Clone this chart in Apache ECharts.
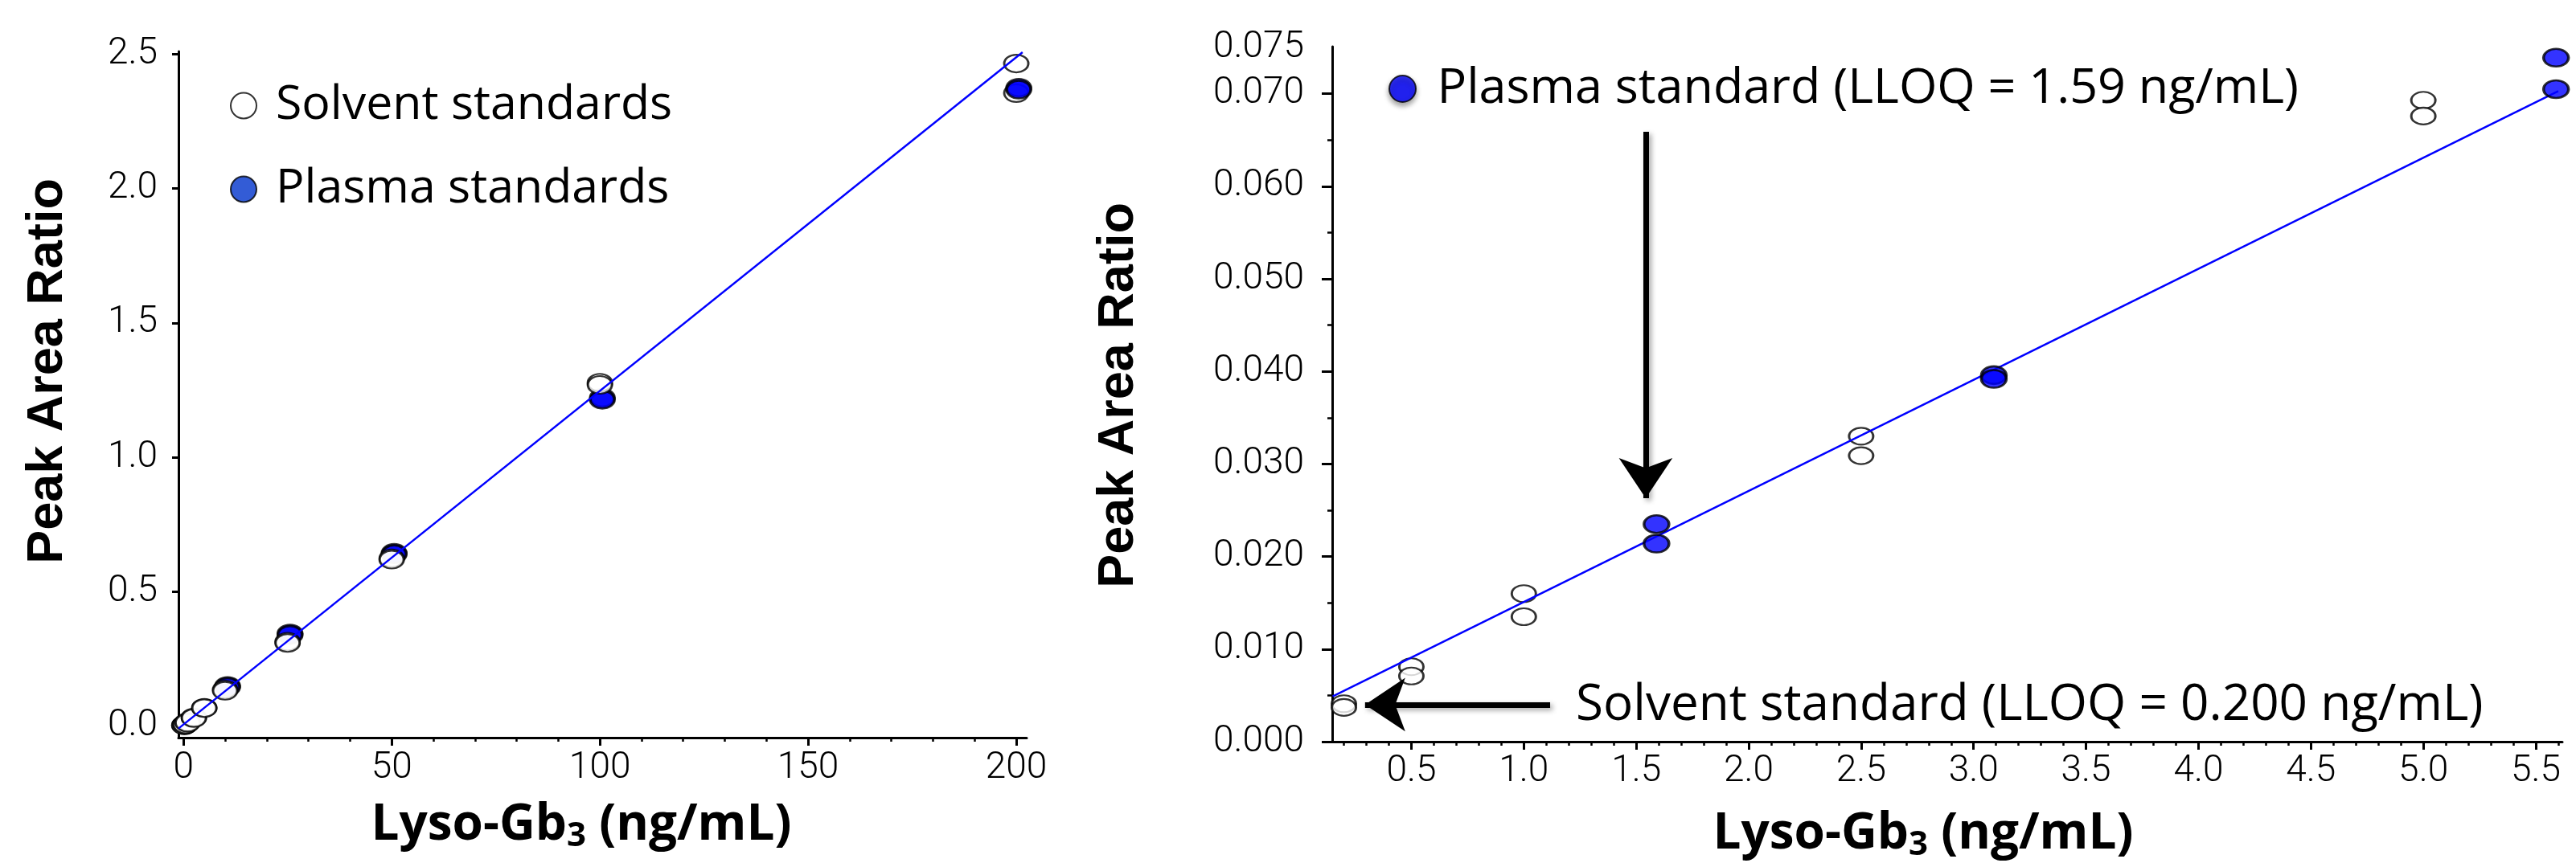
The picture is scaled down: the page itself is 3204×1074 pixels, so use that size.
<!DOCTYPE html>
<html>
<head>
<meta charset="utf-8">
<title>Lyso-Gb3 calibration curves</title>
<script src="https://cdn.jsdelivr.net/npm/echarts@6/dist/echarts.min.js"></script>
<style>
  html, body { margin: 0; padding: 0; background: #fff; }
  #chart { width: 3204px; height: 1074px; }
</style>
</head>
<body>
<div id="chart"></div>
<script>
// solvent standards, duplicates (ng/mL, peak area ratio)
var solventConc  = [0.2, 0.2, 0.5, 0.5, 1, 1, 2.5, 2.5, 5, 5, 10, 10, 25, 25, 50, 50, 100, 100, 200, 200];
var solventRatio = [0.0041, 0.0037, 0.0081, 0.0071, 0.0160, 0.0135, 0.0330, 0.0309, 0.0693, 0.0676,
                    0.137, 0.132, 0.315, 0.310, 0.625, 0.620, 1.278, 1.270, 2.465, 2.355];
// plasma standards (endogenous + spike)
var plasmaConc  = [1.59, 1.59, 3.09, 3.09, 5.59, 5.59, 10.59, 10.59, 25.59, 25.59, 50.59, 50.59, 100.59, 100.59, 200.59, 200.59];
var plasmaRatio = [0.0235, 0.0214, 0.0396, 0.0392, 0.0739, 0.0705, 0.150, 0.146, 0.345, 0.340,
                   0.645, 0.640, 1.222, 1.215, 2.375, 2.368];
// regression lines, end points
var fitFullX = [-1.2, 201.5];
var fitFullY = [-0.008, 2.507];
var fitLowX = [0.15, 5.6];
var fitLowY = [0.0049, 0.0703];

// tick values
var fullXTicks = [0, 50, 100, 150, 200];
var fullXMinor = [10, 20, 30, 40, 60, 70, 80, 90, 110, 120, 130, 140, 160, 170, 180, 190];
var fullYTicks = [0, 0.5, 1.0, 1.5, 2.0, 2.5];
var lowXTicks = [0.5, 1.0, 1.5, 2.0, 2.5, 3.0, 3.5, 4.0, 4.5, 5.0, 5.5];
var lowXMinor = [0.2, 0.3, 0.4, 0.6, 0.7, 0.8, 0.9, 1.1, 1.2, 1.3, 1.4, 1.6, 1.7, 1.8, 1.9,
                 2.1, 2.2, 2.3, 2.4, 2.6, 2.7, 2.8, 2.9, 3.1, 3.2, 3.3, 3.4, 3.6, 3.7, 3.8, 3.9,
                 4.1, 4.2, 4.3, 4.4, 4.6, 4.7, 4.8, 4.9, 5.1, 5.2, 5.3, 5.4, 5.6];
var lowYTicks = [0, 0.01, 0.02, 0.03, 0.04, 0.05, 0.06, 0.07];
var lowYLabels = [0, 0.01, 0.02, 0.03, 0.04, 0.05, 0.06, 0.07, 0.075];
var lowYMinor = [0.005, 0.015, 0.025, 0.035, 0.045, 0.055, 0.065];

// annotation arrows (data coords: tail, tip)
var plasmaArrow = [[1.542, 0.0659], [1.542, 0.0263]];
var solventArrow = [[1.117, 0.0040], [0.294, 0.0040]];

function pairs(xs, ys) {
  return xs.map(function(x, i) { return [x, ys[i]]; });
}
var lowMax = 5.618;
var solventAll = pairs(solventConc, solventRatio);
var plasmaAll = pairs(plasmaConc, plasmaRatio);
// the full-range panel shows plasma standards from 10 ng/mL up only
var plasmaHigh = plasmaAll.filter(function(p) { return p[0] >= 10; });
// in the full-range panel the 200 ng/mL solvent points sit under the plasma ones, the rest on top
var solventTop = solventAll.filter(function(p) { return p[0] < 150; });
var solventUnder = solventAll.filter(function(p) { return p[0] >= 150; });
var solventLow = solventAll.filter(function(p) { return p[0] <= lowMax; });
var plasmaLow = plasmaAll.filter(function(p) { return p[0] <= lowMax; });

var blue = '#0000ff';
var tickFont = { fontFamily: 'Roboto', fontWeight: 300, fontSize: 46, color: '#000' };
var axisLine = { onZero: false, lineStyle: { color: '#000', width: 3 } };

function mainAxis(extra) {
  var base = {
    type: 'value',
    axisLine: axisLine,
    splitLine: { show: false }
  };
  for (var k in extra) base[k] = extra[k];
  return base;
}
function minorAxis(extra) {
  var base = {
    type: 'value',
    axisLine: { show: false, onZero: false },
    axisLabel: { show: false },
    splitLine: { show: false }
  };
  for (var k in extra) base[k] = extra[k];
  return base;
}

var solventStyle = { color: '#ffffff', borderColor: '#000', borderWidth: 2.5 };
var plasmaStyle = { color: blue, borderColor: '#000', borderWidth: 3 };

var chart = echarts.init(document.getElementById('chart'));
chart.setOption({
  animation: false,
  backgroundColor: '#fff',
  grid: [
    { left: 222, top: 64, width: 1055, height: 854 },
    { left: 1657, top: 58, width: 1530, height: 865 }
  ],
  xAxis: [
    mainAxis({
      gridIndex: 0, min: -1.2, max: 202.5,
      axisTick: { customValues: fullXTicks, length: 10, lineStyle: { width: 3 } },
      axisLabel: Object.assign({ customValues: fullXTicks, margin: 15 }, tickFont)
    }),
    mainAxis({
      gridIndex: 1, min: 0.148, max: lowMax,
      axisTick: { customValues: lowXTicks, length: 10, lineStyle: { width: 3 } },
      axisLabel: Object.assign({ customValues: lowXTicks, margin: 14,
        formatter: function(v) { return v.toFixed(1); } }, tickFont)
    }),
    minorAxis({
      gridIndex: 0, position: 'bottom', min: -1.2, max: 202.5,
      axisTick: { customValues: fullXMinor, length: 5, lineStyle: { width: 2.5, color: '#000' } }
    }),
    minorAxis({
      gridIndex: 1, position: 'bottom', min: 0.148, max: lowMax,
      axisTick: { customValues: lowXMinor, length: 5, lineStyle: { width: 2.5, color: '#000' } }
    })
  ],
  yAxis: [
    mainAxis({
      gridIndex: 0, min: -0.042, max: 2.51,
      axisTick: { customValues: fullYTicks, length: 8, lineStyle: { width: 3 } },
      axisLabel: Object.assign({ customValues: fullYTicks, margin: 26,
        formatter: function(v) { return v.toFixed(1); } }, tickFont)
    }),
    mainAxis({
      gridIndex: 1, min: 0, max: 0.0751,
      axisTick: { customValues: lowYTicks, length: 13, lineStyle: { width: 3 } },
      axisLabel: Object.assign({ customValues: lowYLabels, margin: 35,
        formatter: function(v) { return v.toFixed(3); } }, tickFont)
    }),
    minorAxis({
      gridIndex: 1, position: 'left', min: 0, max: 0.0751,
      axisTick: { customValues: lowYMinor, length: 6, lineStyle: { width: 2.5, color: '#000' } }
    })
  ],
  legend: [
    {
      data: ['Solvent standards', { name: 'Plasma standards', itemStyle: { color: '#0033cc' } }],
      orient: 'vertical', left: 281, top: 97,
      itemWidth: 70, itemHeight: 32, itemGap: 45,
      icon: 'circle', selectedMode: false,
      textStyle: { fontFamily: 'Open Sans', fontSize: 59, color: '#000' }
    },
    {
      data: ['Plasma standard (LLOQ = 1.59 ng/mL)'],
      left: 1722, top: 75,
      itemWidth: 76, itemHeight: 33,
      icon: 'circle', selectedMode: false,
      itemStyle: { shadowBlur: 6, shadowColor: 'rgba(0,0,0,0.45)', shadowOffsetY: 4 },
      textStyle: { fontFamily: 'Open Sans', fontSize: 61, color: '#000' }
    }
  ],
  series: [
    {
      name: 'Solvent standards', type: 'scatter', xAxisIndex: 0, yAxisIndex: 0, z: 2,
      symbol: 'circle', symbolSize: [30, 22], itemStyle: solventStyle, data: solventUnder
    },
    {
      name: 'Plasma standards', type: 'scatter', xAxisIndex: 0, yAxisIndex: 0, z: 4,
      symbol: 'circle', symbolSize: [30, 22], itemStyle: plasmaStyle, data: plasmaHigh
    },
    {
      name: 'Solvent standards', type: 'scatter', xAxisIndex: 0, yAxisIndex: 0, z: 5,
      symbol: 'circle', symbolSize: [30, 22], itemStyle: solventStyle, data: solventTop
    },
    {
      type: 'line', xAxisIndex: 0, yAxisIndex: 0, z: 6, symbol: 'none',
      lineStyle: { color: blue, width: 2.5 }, data: pairs(fitFullX, fitFullY)
    },
    {
      name: 'Solvent standard (LLOQ = 0.200 ng/mL)', type: 'scatter', xAxisIndex: 1, yAxisIndex: 1, z: 2,
      symbol: 'circle', symbolSize: [30, 21], itemStyle: solventStyle, data: solventLow
    },
    {
      type: 'line', xAxisIndex: 1, yAxisIndex: 1, z: 3, symbol: 'none',
      lineStyle: { color: blue, width: 2.5 }, data: pairs(fitLowX, fitLowY),
      markLine: {
        silent: true,
        symbol: ['none', 'arrow'],
        symbolSize: 50,
        label: { show: false },
        lineStyle: {
          color: '#000', width: 7, type: 'solid',
          shadowBlur: 6, shadowColor: 'rgba(0,0,0,0.35)', shadowOffsetX: 3, shadowOffsetY: 3
        },
        data: [
          [{ coord: plasmaArrow[0] }, { coord: plasmaArrow[1] }],
          [{ coord: solventArrow[0] }, { coord: solventArrow[1] }]
        ]
      }
    },
    {
      name: 'Plasma standard (LLOQ = 1.59 ng/mL)', type: 'scatter', xAxisIndex: 1, yAxisIndex: 1, z: 4,
      symbol: 'circle', symbolSize: [31, 22], itemStyle: plasmaStyle, data: plasmaLow
    }
  ],
  graphic: [
    {
      type: 'text', x: 60, y: 462, rotation: Math.PI / 2,
      style: { text: 'Peak Area Ratio', fontFamily: 'Liberation Sans', fontWeight: 'bold', fontSize: 63,
               fill: '#000', align: 'center', verticalAlign: 'middle' }
    },
    {
      type: 'text', x: 1392, y: 492, rotation: Math.PI / 2,
      style: { text: 'Peak Area Ratio', fontFamily: 'Liberation Sans', fontWeight: 'bold', fontSize: 63,
               fill: '#000', align: 'center', verticalAlign: 'middle' }
    },
    {
      type: 'text', x: 723, y: 1027,
      style: {
        text: '{a|Lyso-Gb}{s|3}{a| (ng/mL)}', align: 'center', verticalAlign: 'middle',
        rich: {
          a: { fontFamily: 'Open Sans', fontWeight: 'bold', fontSize: 62, lineHeight: 70, fill: '#000' },
          s: { fontFamily: 'Open Sans', fontWeight: 'bold', fontSize: 42, lineHeight: 30, verticalAlign: 'bottom', fill: '#000' }
        }
      }
    },
    {
      type: 'text', x: 2392, y: 1038,
      style: {
        text: '{a|Lyso-Gb}{s|3}{a| (ng/mL)}', align: 'center', verticalAlign: 'middle',
        rich: {
          a: { fontFamily: 'Open Sans', fontWeight: 'bold', fontSize: 62, lineHeight: 70, fill: '#000' },
          s: { fontFamily: 'Open Sans', fontWeight: 'bold', fontSize: 42, lineHeight: 30, verticalAlign: 'bottom', fill: '#000' }
        }
      }
    },
    {
      type: 'text', x: 1960, y: 878,
      style: { text: 'Solvent standard (LLOQ = 0.200 ng/mL)', fontFamily: 'Open Sans', fontSize: 62,
               fill: '#000', align: 'left', verticalAlign: 'middle' }
    }
  ]
});
window.addEventListener('resize', function() { chart.resize(); });
</script>
</body>
</html>
